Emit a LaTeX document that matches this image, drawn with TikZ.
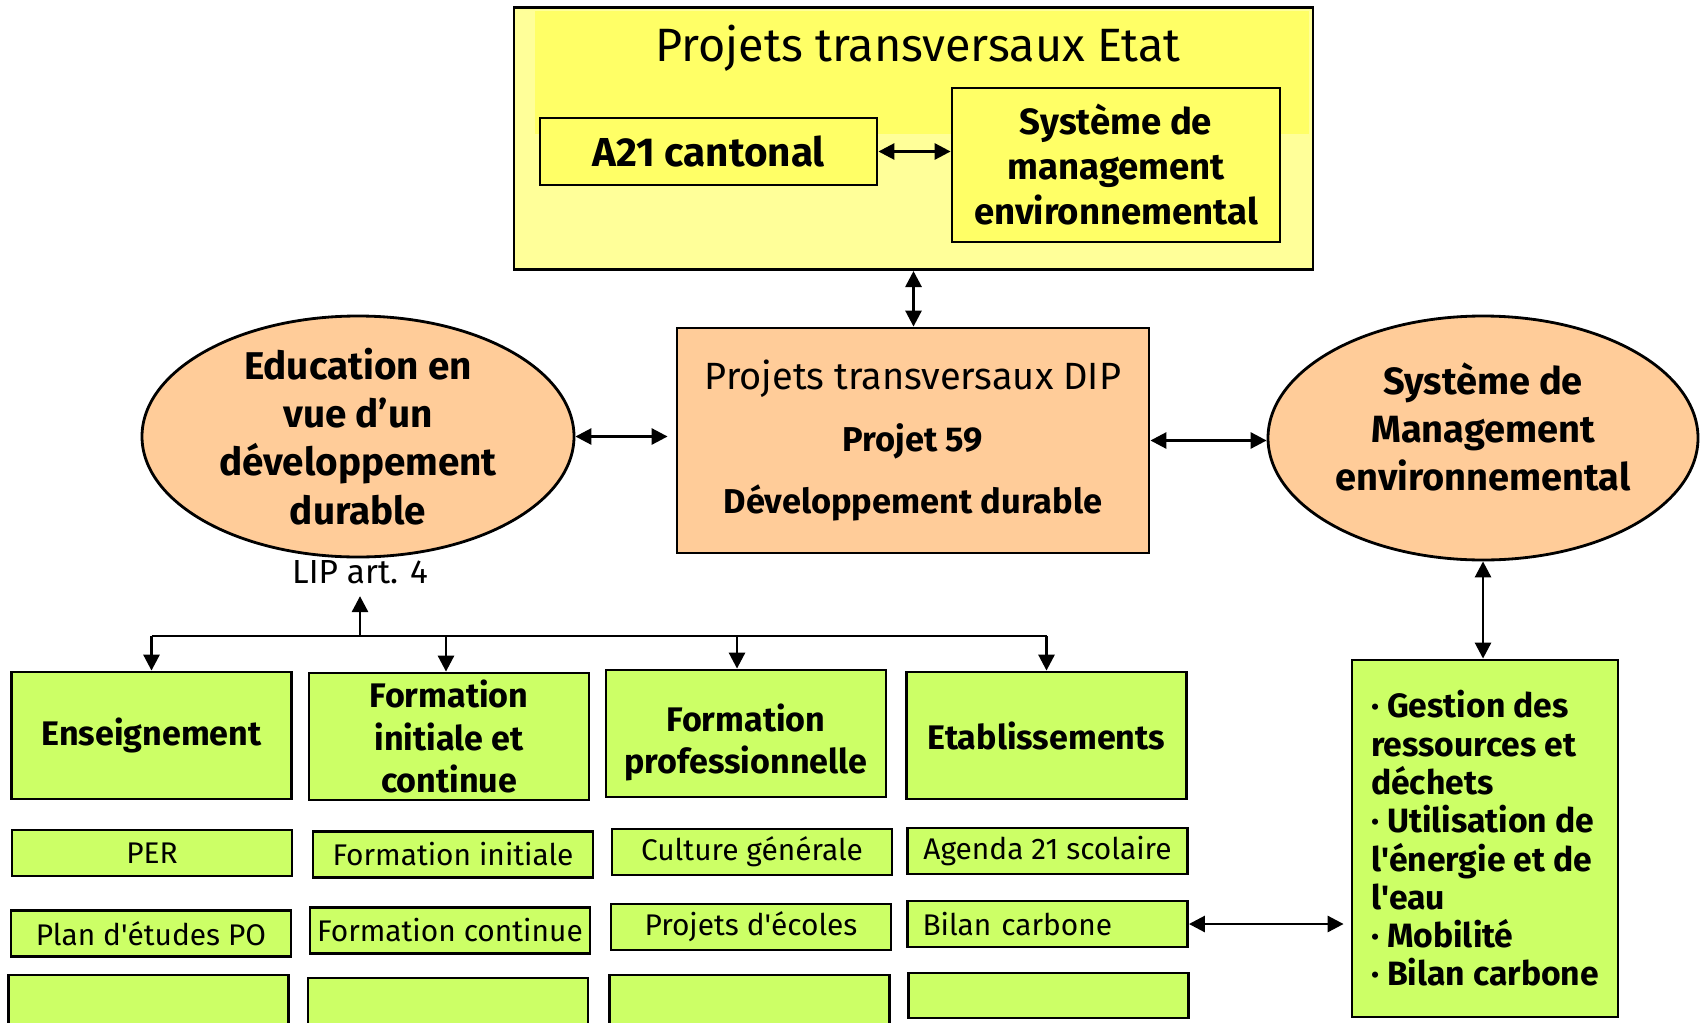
\documentclass[tikz,border=0pt]{standalone}
\usepackage{fontspec}
\setmainfont{Fira Sans}
\usetikzlibrary{shapes.geometric,arrows.meta}

\definecolor{yelpale}{HTML}{FFFF99}
\definecolor{yelhi}{HTML}{FFFF66}
\definecolor{peach}{HTML}{FFCC99}
\definecolor{lgreen}{HTML}{CCFF66}

\tikzset{
  box/.style={draw, thick, rectangle, inner sep=0pt, align=center},
  yelbox/.style={box, fill=yelhi},
  grnbox/.style={box, fill=lgreen, minimum width=2.8cm},
  headbox/.style={grnbox, minimum height=1.27cm, font=\fontsize{9.7}{12.1}\selectfont\bfseries},
  itembox/.style={grnbox, minimum height=0.46cm, font=\fontsize{8.5}{10}\selectfont},
  blob/.style={ellipse, draw, thick, fill=peach, inner xsep=0pt, inner ysep=-1mm, align=center},
  link/.style={<->, thick}
}

\begin{document}
\begin{tikzpicture}[>={Triangle[length=1.6mm,width=1.6mm]}]

\useasboundingbox (0,0) rectangle (17.04,-10.22);

% Etat
\node[box, fill=yelpale, minimum width=7.99cm, minimum height=2.62cm] (etat) at (9.135,-1.386) {};
\fill[yelhi] (5.35,-0.11) rectangle (13.09,-1.34);
\node[font=\fontsize{13.3}{16}\selectfont] (etattitle) at (9.18,-0.48) {Projets transversaux Etat};
\node[yelbox, minimum width=3.37cm, minimum height=0.67cm, font=\fontsize{11.5}{13}\selectfont\bfseries] (a21) at (7.085,-1.515) {A21 cantonal};
\node[yelbox, minimum width=3.28cm, minimum height=1.54cm, font=\fontsize{10.4}{12.8}\selectfont\bfseries] (sme) at (11.16,-1.65) {Système de\\management\\environnemental};

% DIP
\node[box, fill=peach, minimum width=4.72cm, minimum height=2.25cm, font=\fontsize{10.8}{17.6}\selectfont] (dip) at (9.13,-4.405)
  {Projets transversaux DIP\\\textbf{\fontsize{9.8}{17.6}\selectfont Projet 59}\\\textbf{\fontsize{9.8}{17.6}\selectfont Développement durable}};

\node[blob, minimum width=4.32cm, minimum height=2.41cm, font=\fontsize{11}{13.7}\selectfont\bfseries] (edd) at (3.58,-4.365)
  {Education en\\vue d’un\\développement\\durable};
\node[font=\fontsize{9.5}{11}\selectfont] (lip) at (3.6,-5.72) {LIP art. 4};

\node[blob, minimum width=4.30cm, minimum height=2.44cm, text depth=6.3pt, font=\fontsize{10.8}{13.6}\selectfont\bfseries] (sm) at (14.83,-4.38)
  {Système de\\Management\\environnemental};

\node[grnbox, minimum width=2.66cm, minimum height=3.57cm, align=left, font=\fontsize{9.6}{10.9}\selectfont\bfseries] (bullet) at (14.85,-8.385)
  {· Gestion des\\ressources et\\déchets\\· Utilisation de\\l\textquotesingle énergie et de\\l\textquotesingle eau\\· Mobilité\\· Bilan carbone};

% columns
\node[headbox] (ens) at (1.515,-7.355) {Enseignement};
\node[headbox] (fic) at (4.49,-7.365) {Formation\\initiale et\\continue};
\node[headbox] (fp) at (7.46,-7.335) {\rule{0pt}{13pt}Formation\\professionnelle};
\node[headbox] (etab) at (10.465,-7.355) {Etablissements};

\node[itembox] (per) at (1.52,-8.53) {PER};
\node[itembox] (fi) at (4.53,-8.545) {Formation initiale};
\node[itembox] (cg) at (7.52,-8.52) {Culture générale};
\node[itembox] (a21s) at (10.475,-8.51) {Agenda 21 scolaire};

\node[itembox] (po) at (1.51,-9.335) {Plan d\textquotesingle études PO};
\node[itembox] (fc) at (4.5,-9.305) {Formation continue};
\node[itembox] (pe) at (7.51,-9.27) {Projets d\textquotesingle écoles};
\node[itembox, text width=2.5cm, align=left] (bc) at (10.475,-9.24) {Bilan carbone};

\node[grnbox, minimum height=0.5cm] (ens4) at (1.485,-10.0) {};
\node[grnbox, minimum height=0.5cm] (fic4) at (4.48,-10.03) {};
\node[grnbox, minimum height=0.5cm] (fp4) at (7.495,-10.0) {};
\node[grnbox, minimum height=0.45cm] (etab4) at (10.485,-9.955) {};

% links
\draw[link] (a21.east) -- (a21.east -| sme.west);
\draw[link] (etat.south) -- (etat.south |- dip.north);
\draw[link] (edd.east) -- ([xshift=-0.08cm]edd.east -| dip.west);
\draw[link] (dip.east) -- (dip.east -| sm.west);
\draw[link] (sm.south) -- (sm.south |- bullet.north);
\draw[link] (bc.east) -- ([xshift=-0.07cm]bc.east -| bullet.west);

% tree
\coordinate (hub) at (3.6,-6.36);
\draw[->, thick] (hub) -- (lip.south);
\draw[thick] (ens.north |- hub) -- (etab.north |- hub);
\foreach \n/\dx in {ens/0,fic/-0.03,fp/-0.09,etab/0}
  \draw[->, thick] ([xshift=\dx cm]\n.north |- hub) -- ([xshift=\dx cm]\n.north);

\end{tikzpicture}
\end{document}
